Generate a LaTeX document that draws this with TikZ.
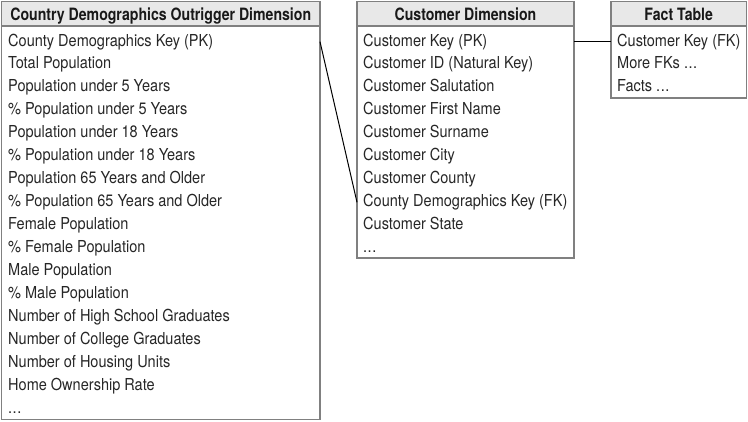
\documentclass[tikz,border=0pt]{standalone}
\usepackage{fontspec}
\setmainfont{TeX Gyre Heros}
\newfontfamily\rowfont{TeX Gyre Heros}[FakeStretch=0.88]
\newfontfamily\headfont{TeX Gyre Heros}[FakeStretch=0.83]
\newcommand\mydots{.\kern0.5pt.\kern0.5pt.}
\begin{document}
\begin{tikzpicture}[x=1pt,y=-1pt,
  tablebox/.style={draw=black!50, line width=1.3pt},
  headbox/.style={draw=black!50, line width=1.3pt, fill=black!9},
  headtext/.style={inner sep=0pt, anchor=base, font=\headfont\fontsize{17}{20}\selectfont\bfseries, text=black!90},
  rowtext/.style={inner sep=0pt, anchor=base west, font=\rowfont\fontsize{16.5}{19}\selectfont, text=black!85},
  link/.style={draw=black, line width=1pt}]
\useasboundingbox (0,0) rectangle (748,421);
% ---- left table
\path[tablebox] (1.5,26) rectangle (320,419.5);
\path[headbox] (1.5,1.5) rectangle (320,26);
\coordinate (Ltl) at (1.5,1.5);
\coordinate (Lbr) at (320,419.5);
\node[headtext] (Lh) at (160.75,20) {Country Demographics Outrigger Dimension};
\foreach \t [count=\i] in {County Demographics Key (PK),Total Population,Population under 5 Years,\% Population under 5 Years,Population under 18 Years,\% Population under 18 Years,Population 65 Years and Older,\% Population 65 Years and Older,Female Population,\% Female Population,Male Population,\% Male Population,Number of High School Graduates,Number of College Graduates,Number of Housing Units,Home Ownership Rate,\mydots}
  \node[rowtext] (l\i) at (8,{46+22.95*(\i-1)}) {\t};
% ---- middle table
\path[tablebox] (357,26) rectangle (574,258);
\path[headbox] (357,1.5) rectangle (574,26);
\coordinate (Mtl) at (357,1.5);
\coordinate (Mbr) at (574,258);
\node[headtext] (Mh) at (465.5,20) {Customer Dimension};
\foreach \t [count=\i] in {Customer Key (PK),Customer ID (Natural Key),Customer Salutation,Customer First Name,Customer Surname,Customer City,Customer County,County Demographics Key (FK),Customer State,\mydots}
  \node[rowtext] (m\i) at (363,{46+22.95*(\i-1)}) {\t};
% ---- fact table
\path[tablebox] (611,26) rectangle (746.5,98);
\path[headbox] (611,1.5) rectangle (746.5,26);
\coordinate (Ftl) at (611,1.5);
\coordinate (Fbr) at (746.5,98);
\node[headtext] (Fh) at (678.75,20) {Fact Table};
\foreach \t [count=\i] in {Customer Key (FK),More FKs \mydots,Facts \mydots}
  \node[rowtext] (f\i) at (617,{46+22.95*(\i-1)}) {\t};
% ---- connectors
\coordinate (la) at (Lbr |- l1.center);
\coordinate (mb) at (Mtl |- m8.center);
\coordinate (ma) at (Mbr |- m1.center);
\coordinate (fb) at (Ftl |- f1.center);
\draw[link] (la) -- (mb);
\draw[link] (ma) -- (fb);
\end{tikzpicture}
\end{document}
